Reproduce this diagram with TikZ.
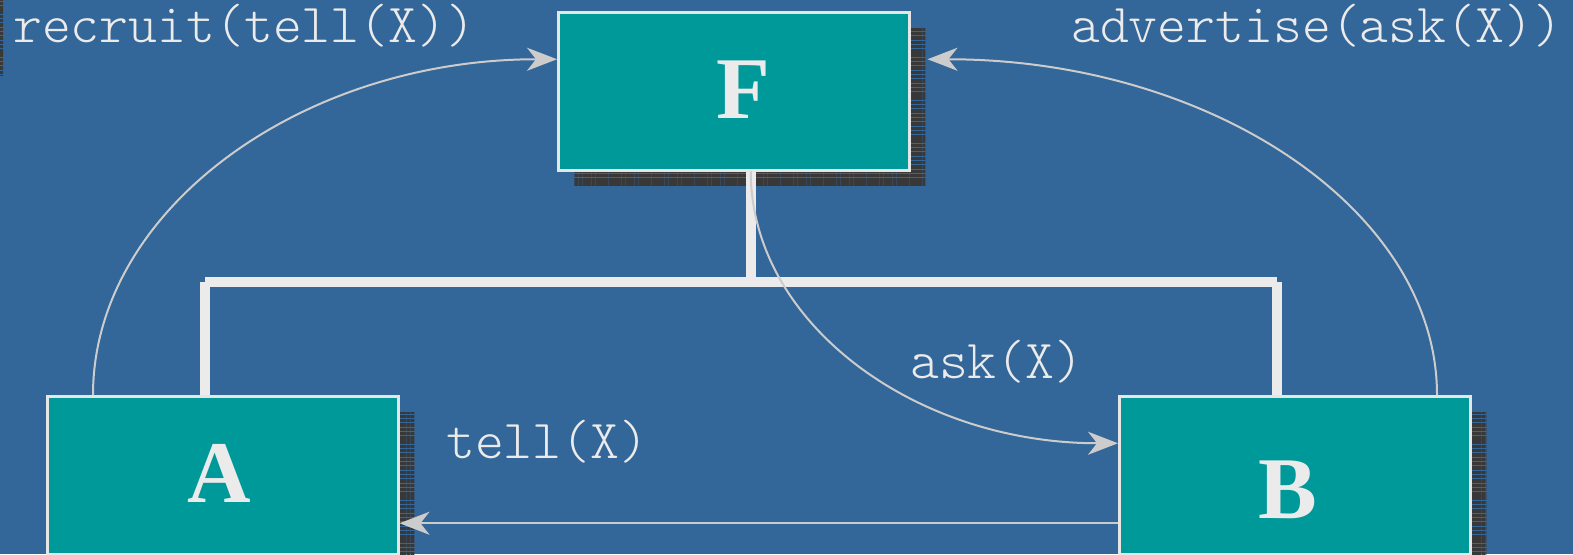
\documentclass[tikz,border=0pt]{standalone}
\usepackage{fontspec}
\newfontfamily\monof{Latin Modern Mono Light}
\newfontfamily\serifb{Liberation Serif}
\usetikzlibrary{arrows.meta,calc,shadows,patterns.meta}
\definecolor{bgc}{HTML}{336699}
\definecolor{tealc}{HTML}{009999}
\definecolor{txt}{HTML}{EBEBEB}
\definecolor{boxline}{HTML}{E6E6E6}
\definecolor{arrowc}{HTML}{CCCCCC}
\definecolor{shadowc}{HTML}{383838}
\tikzset{
  shadowfill/.style={pattern={Lines[angle=0,distance=4.3pt,line width=3.4pt]}, pattern color=shadowc},
  box/.style={draw=boxline, line width=2.5pt, fill=tealc, minimum width=351pt, minimum height=158pt,
    inner sep=0pt, anchor=north west,
    general shadow={shadow xshift=16pt, shadow yshift=-16pt, shadowfill}},
  letter/.style={text=txt, font=\serifb\bfseries\fontsize{88}{88}\selectfont, inner sep=0pt, anchor=base},
  lab/.style={text=txt, font=\monof\fontsize{55}{55}\selectfont, inner sep=0pt, anchor=base west},
  bus/.style={draw=txt, line width=10pt},
  msg/.style={draw=arrowc, line width=2pt, -{Stealth[length=30pt,width=23pt,inset=9pt]}},
}
\begin{document}
\begin{tikzpicture}[x=1pt,y=-1pt]
\useasboundingbox (0,0) rectangle (1573,554);
\fill[bgc] (0,0) rectangle (1573,554);
\fill[shadowfill] (0,0) rectangle (3,75);
% boxes
\node[box] (F) at (557,11) {};
\node[box] (A) at (46,395) {};
\node[box] (B) at (1118,395) {};
\node[letter] (Fl) at (743,118) {F};
\node[letter] (Al) at (219,502) {A};
\node[letter] (Bl) at (1288,518) {B};
% labels
\node[lab] (l1) at (13,42) {recruit(tell(X))};
\node[lab] (l2) at (1071,42) {advertise(ask(X))};
\node[lab] (l3) at (910,378) {ask(X)};
\node[lab] (l4) at (446,458) {tell(X)};
% bus
\coordinate (busL) at ($(A.north west)+(159,-113)$);
\coordinate (busR) at ($(B.north west)+(159,-113)$);
\draw[bus] ($(F.south)+(17,0)$) -- ($(F.south)+(17,113)$);
\draw[bus] (busL) -- (busR);
\draw[bus] (busL) -- ($(A.north west)+(159,0)$);
\draw[bus] (busR) -- ($(B.north west)+(159,0)$);
% messages
\draw[msg] ($(A.north west)+(47,0)$) .. controls +(0,-185) and +(-256,0) .. ($(F.west)+(0,-32)$);
\draw[msg] ($(B.north west)+(319,0)$) .. controls +(0,-185) and +(283,0) .. ($(F.east)+(17,-32)$);
\draw[msg] ($(F.south)+(17,0)$) .. controls +(0,151) and +(-204,0) .. ($(B.west)+(0,-32)$);
\draw[msg] ($(B.west)+(0,48)$) -- ($(A.east)+(0,48)$);
\end{tikzpicture}
\end{document}
